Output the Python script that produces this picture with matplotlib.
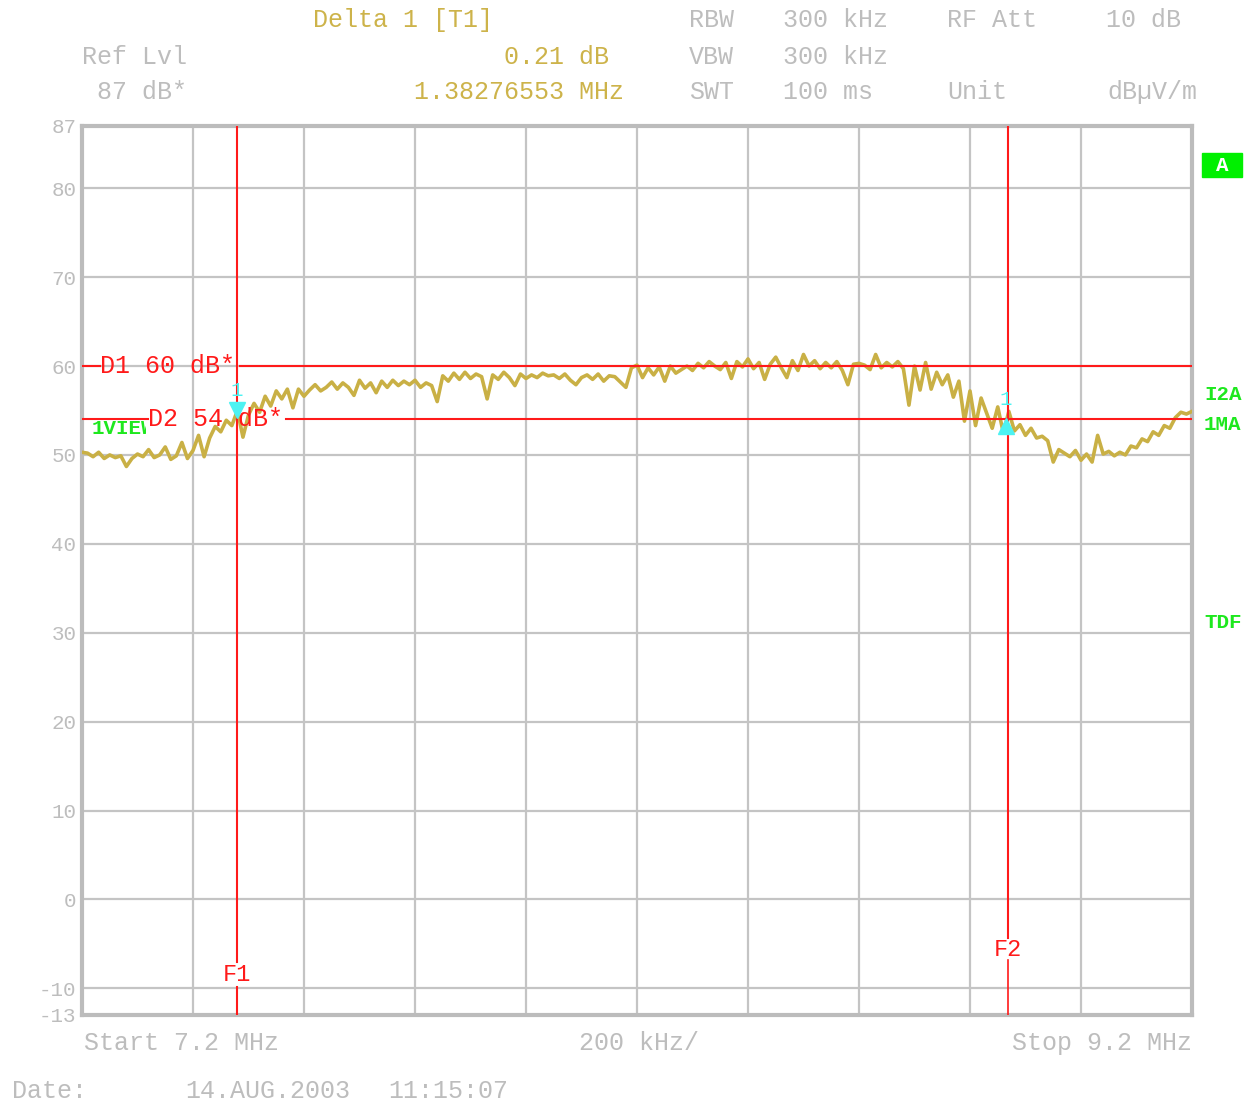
import matplotlib
matplotlib.use("Agg")
import matplotlib.pyplot as plt
from matplotlib.patches import Rectangle
import numpy as np

# sweep 7.2 .. 9.2 MHz, level in dBuV/m (0.01 MHz steps)
f_start, f_stop = 7.2, 9.2
level = [
    50.3, 50.2, 49.8, 50.3, 49.6, 50.0, 49.7, 49.9, 48.7, 49.6,
    50.1, 49.8, 50.6, 49.7, 50.0, 50.9, 49.5, 49.9, 51.4, 49.6,
    50.5, 52.2, 49.8, 51.9, 53.2, 52.6, 53.9, 53.3, 55.0, 52.0,
    54.5, 55.8, 54.8, 56.6, 55.5, 57.2, 56.3, 57.4, 55.3, 57.4,
    56.6, 57.3, 57.9, 57.2, 57.6, 58.2, 57.4, 58.1, 57.6, 56.7,
    58.4, 57.5, 58.1, 57.0, 58.3, 57.6, 58.4, 57.8, 58.3, 57.9,
    58.4, 57.6, 58.1, 57.8, 56.0, 58.9, 58.3, 59.2, 58.5, 59.3,
    58.6, 59.1, 58.8, 56.3, 59.0, 58.5, 59.3, 58.7, 57.8, 59.1,
    58.6, 59.0, 58.7, 59.2, 58.9, 59.0, 58.6, 59.1, 58.4, 57.9,
    58.7, 59.0, 58.5, 59.1, 58.3, 58.9, 58.8, 58.2, 57.6, 59.8,
    60.1, 58.7, 59.8, 59.0, 59.9, 58.3, 60.0, 59.2, 59.6, 60.0,
    59.5, 60.3, 59.8, 60.5, 60.0, 59.6, 60.4, 58.6, 60.5, 59.9,
    60.8, 59.7, 60.4, 58.5, 60.2, 61.0, 59.8, 58.7, 60.6, 59.5,
    61.3, 60.0, 60.6, 59.7, 60.4, 59.8, 60.5, 59.5, 57.9, 60.2,
    60.3, 60.1, 59.6, 61.3, 59.8, 60.4, 59.9, 60.5, 59.7, 55.6,
    60.0, 57.3, 60.4, 57.4, 59.3, 57.9, 59.0, 56.5, 58.3, 53.8,
    57.2, 53.3, 56.4, 54.7, 53.0, 55.4, 52.5, 54.9, 52.7, 53.4,
    52.2, 53.0, 51.9, 52.1, 51.6, 49.2, 50.6, 50.2, 49.8, 50.5,
    49.4, 50.1, 49.2, 52.2, 50.1, 50.4, 49.9, 50.3, 50.0, 51.0,
    50.8, 51.8, 51.5, 52.6, 52.2, 53.3, 53.0, 54.2, 54.8, 54.6, 54.9,
]
freq = np.linspace(f_start, f_stop, len(level))

y_ticks = [87, 80, 70, 60, 50, 40, 30, 20, 10, 0, -10, -13]
y_grid = [80, 70, 60, 50, 40, 30, 20, 10, 0, -10]
x_grid = [7.4, 7.6, 7.8, 8.0, 8.2, 8.4, 8.6, 8.8, 9.0]

d1, d2 = 60, 54
f1, f2 = 7.479, 8.868
mk1, mk2 = 55.0, 53.2

gray = "#bdbdbd"
gold = "#cdb34a"
red = "#ff1a1a"
green = "#1ee81e"
cyan = "#4df2f2"
mono = "Liberation Mono"

W, H = 1254, 1102
fig = plt.figure(figsize=(W / 100, H / 100), dpi=100)
ax = fig.add_axes([82 / W, 1 - 1015 / H, (1192 - 82) / W, (1015 - 126) / H])
ax.set_xlim(f_start, f_stop)
ax.set_ylim(-13, 87)

for y in y_grid:
    ax.axhline(y, color="#c4c4c4", lw=1.6, zorder=1)
for x in x_grid:
    ax.axvline(x, color="#c4c4c4", lw=1.6, zorder=1)
for s in ax.spines.values():
    s.set_color("#bcbcbc")
    s.set_linewidth(3)

ax.set_xticks([])
ax.set_yticks(y_ticks)
ax.set_yticklabels([str(v) for v in y_ticks], family=mono, fontsize=15, color=gray)
ax.tick_params(axis="y", length=0, pad=4)

ax.plot(freq, level, color="#c9b045", lw=2.6, zorder=3)


def fx(px):
    return f_start + (px - 82) / 555.0


# display lines with gaps for their labels
ax.plot([f_start, fx(100)], [d1, d1], color=red, lw=1.5, zorder=4)
ax.plot([fx(240), f_stop], [d1, d1], color=red, lw=1.5, zorder=4)
ax.plot([f_start, fx(148)], [d2, d2], color=red, lw=1.5, zorder=4)
ax.plot([fx(286), f_stop], [d2, d2], color=red, lw=1.5, zorder=4)
ax.text(fx(100), d1, "D1 60 dB*", family=mono, fontsize=18, color=red,
        ha="left", va="center", zorder=5)
ax.text(fx(148), d2, "D2 54 dB*", family=mono, fontsize=18, color=red,
        ha="left", va="center", zorder=5)

# frequency lines
ax.plot([f1, f1], [-13, -9.8], color=red, lw=1.5, zorder=4)
ax.plot([f1, f1], [-7.0, 87], color=red, lw=1.5, zorder=4)
ax.text(f1, -8.4, "F1", family=mono, fontsize=17, color=red, ha="center", va="center")
ax.plot([f2, f2], [-13, -6.8], color=red, lw=1.2, zorder=4)
ax.plot([f2, f2], [-4.3, 87], color=red, lw=1.5, zorder=4)
ax.text(f2, -5.6, "F2", family=mono, fontsize=17, color=red, ha="center", va="center")

# markers
ax.plot([f1], [mk1], marker="v", ms=11, color=cyan, zorder=6)
ax.text(f1, 57.3, "1", family=mono, fontsize=15, color=cyan, ha="center", va="center", zorder=6)
ax.plot([fx(1006)], [mk2], marker="^", ms=11, color=cyan, zorder=6)
ax.text(fx(1006), 56.2, "1", family=mono, fontsize=15, color=cyan, ha="center", va="center", zorder=6)

t = ax.text(fx(92), 53.0, "1VIEW", family=mono, fontsize=15, weight="bold",
            color=green, ha="left", va="center", zorder=4, clip_on=True)
t.set_clip_path(Rectangle((f_start, 40), fx(146) - f_start, 20, transform=ax.transData))


def ftext(px, py, s, color=gray, size=18, ha="left", **kw):
    fig.text(px / W, 1 - py / H, s, family=mono, fontsize=size, color=color,
             ha=ha, va="center", **kw)


# header
ftext(313, 20, "Delta 1 [T1]", gold)
ftext(689, 20, "RBW")
ftext(783, 20, "300 kHz")
ftext(947, 20, "RF Att")
ftext(1181, 20, "10 dB", ha="right")
ftext(82, 57, "Ref Lvl")
ftext(609, 57, "0.21 dB", gold, ha="right")
ftext(689, 57, "VBW")
ftext(783, 57, "300 kHz")
ftext(97, 92, "87 dB*")
ftext(624, 92, "1.38276553 MHz", gold, ha="right")
ftext(689, 92, "SWT")
ftext(783, 92, "100 ms")
ftext(947, 92, "Unit")
ftext(1197, 92, "dB\u00b5V/m", ha="right")

# footer
ftext(84, 1043, "Start 7.2 MHz")
ftext(639, 1043, "200 kHz/", ha="center")
ftext(1192, 1043, "Stop 9.2 MHz", ha="right")
ftext(12, 1091, "Date:")
ftext(185, 1091, "14.AUG.2003")
ftext(388, 1091, "11:15:07")

# right side annotations
fig.patches.append(Rectangle((1202 / W, 1 - 177 / H), 40 / W, 24 / H,
                             transform=fig.transFigure, color="#00f000", zorder=1))
ftext(1222, 165, "A", "white", 15, ha="center", weight="bold")
ftext(1204, 395, "I2A", green, 15, weight="bold")
ftext(1204, 424, "1MA", green, 15, weight="bold")
ftext(1204, 622, "TDF", green, 15, weight="bold")

fig.savefig("out.png", dpi=100, facecolor="white")
